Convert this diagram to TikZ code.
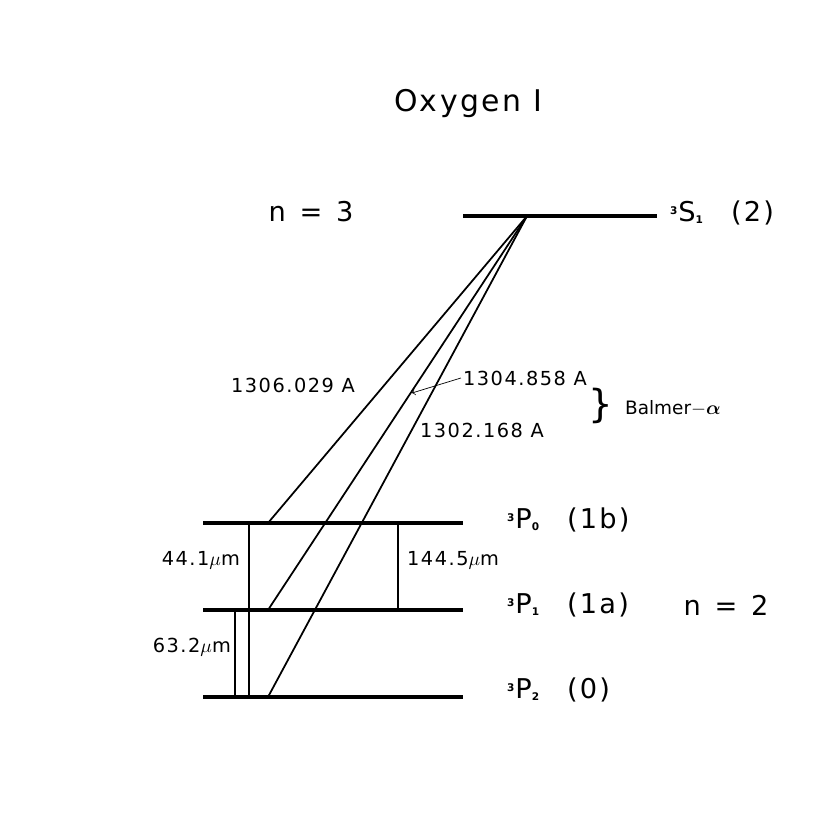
\documentclass[tikz,border=0pt]{standalone}
\usepackage{bm}
\usepackage{fontspec}
\setmainfont{DejaVu Sans}[LetterSpace=8]
\usetikzlibrary{positioning,arrows}

\newcommand{\trm}[3]{{\fontsize{9}{10}\selectfont\bfseries\textsuperscript{#1}}#2{\fontsize{9}{10}\selectfont\bfseries\textsubscript{#3}}}

\begin{document}
\begin{tikzpicture}[x=0.02cm,y=-0.02cm,every node/.style={inner sep=1pt},
  level/.style={line width=2.3pt},
  trans/.style={line width=1pt},
  lbl/.style={font=\fontsize{11}{13}\selectfont},
  big/.style={font=\fontsize{15.5}{18}\selectfont}]
\useasboundingbox (0,0) rectangle (830,830);

% levels
\coordinate (s1a) at (463,216); \coordinate (s1b) at (657,216);
\coordinate (p0a) at (203,523); \coordinate (p0b) at (463,523);
\coordinate (p1a) at (203,610); \coordinate (p1b) at (463,610);
\coordinate (p2a) at (203,697); \coordinate (p2b) at (463,697);
\draw[level] (s1a) -- (s1b);
\draw[level] (p0a) -- (p0b);
\draw[level] (p1a) -- (p1b);
\draw[level] (p2a) -- (p2b);

\node[font=\fontsize{17}{20}\selectfont] (title) at (468,104) {Oxygen I};
\node[big] (n3) at (311,212) {n\enspace=\enspace3};
\node[big,anchor=west] (s1) at (668,213) {\trm{3}{S}{1}\quad(2)};
\node[big,anchor=west] (p0) at (505,520) {\trm{3}{P}{0}\quad(1b)};
\node[big,anchor=west] (p1) at (505,605) {\trm{3}{P}{1}\quad(1a)};
\node[big] (n2) at (726,605) {n\enspace=\enspace2};
\node[big,anchor=west] (p2) at (505,690) {\trm{3}{P}{2}\quad(0)};

% optical lines
\coordinate (top) at (527,216);
\coordinate (f0) at (268,523);
\coordinate (f1) at (268,610);
\coordinate (f2) at (268,697);
\draw[trans] (top) -- (f0);
\draw[trans] (top) -- (f1);
\draw[trans] (top) -- (f2);

\node[lbl] (w1) at (293,385) {1306.029 A};
\node[lbl] (w2) at (525,378) {1304.858 A};
\node[lbl] (w3) at (482,430) {1302.168 A};
\coordinate (hit) at (412,393);
\draw[->,>=to,thin] (w2.west) -- (hit);
\node[font=\fontsize{22}{24}\selectfont] (brace) at (601,406) {\}};
\node[font=\fontsize{10.5}{12}\selectfont\addfontfeatures{LetterSpace=0},anchor=west] (balmer) at (623,408) {Balmer$-\bm{\alpha}$};

% fine structure
\coordinate (a0) at (249,523); \coordinate (a2) at (249,697);
\coordinate (b1) at (235,610); \coordinate (b2) at (235,697);
\coordinate (c0) at (398,523); \coordinate (c1) at (398,610);
\draw[trans] (a0) -- (a2);
\draw[trans] (b1) -- (b2);
\draw[trans] (c0) -- (c1);
\node[lbl,anchor=east] (m1) at (242,560) {44.1$\mu$m};
\node[lbl,anchor=west] (m2) at (405,560) {144.5$\mu$m};
\node[lbl,anchor=east] (m3) at (233,647) {63.2$\mu$m};

\end{tikzpicture}
\end{document}
